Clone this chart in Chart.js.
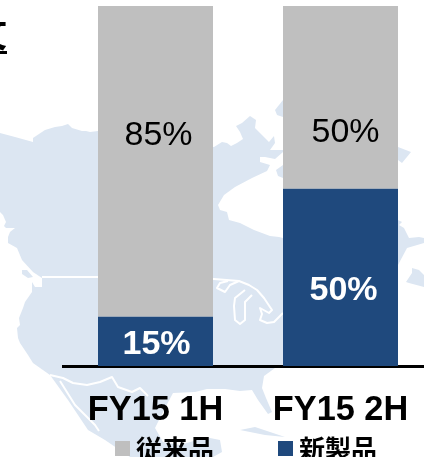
<!DOCTYPE html>
<html><head><meta charset="utf-8">
<script src="https://cdn.jsdelivr.net/npm/chart.js@4"></script>
<style>html,body{margin:0;padding:0;background:#fff;overflow:hidden;width:424px;height:457px}canvas{display:block}</style>
</head><body><canvas id="c" width="433" height="457" style="width:433px;height:457px"></canvas>
<script>
const categories = ['FY15 1H', 'FY15 2H'];
const newProduct = [15, 50];
const legacyProduct = [85, 50];
const seriesNames = { legacy: '従来品', fresh: '新製品' };

// Decorative backdrop (map of North America), not data
const landMain = [[0,133],[15,137],[33,142],[33,138],[45,130],[55,127],[62,126],[68,124],[72,128],[82,131],[86,131],[90,132],[98,131],
 [214,147],[222,142],[227,143],[231,146],[237,143],[243,139],[240,132],[236,126],[242,123],[250,116],[256,120],[255,128],[262,135],[269,142],[274,136],[275,143],[270,150],[283,150],
 [283,152],[275,159],[265,157],[260,157],[260,162],[270,165],[267,171],[252,178],[235,187],[224,195],[218,205],[220,210],[227,212],[229,220],[240,223],[254,230],[262,233],[270,236],[279,237],[283,238],
 [398,220],[402,222],[399,225],[404,228],[409,238],[419,237],[424,238],[424,243],[407,248],[398,265],[390,366],
 [275,368],[264,376],[262,388],[266,398],[272,412],[268,414],[258,400],[252,390],[240,391],[225,389],[207,389],[195,392],[173,393],[165,408],[158,422],[155,428],[163,442],[180,445],[197,440],[210,438],[220,440],[222,452],[213,457],
 [130,457],[105,440],[88,430],[68,400],[50,375],[33,363],[28,355],[20,343],[18,338],[17,328],[20,325],[19,318],[23,308],[25,302],[32,292],[32,282],[35,287],[42,287],[42,278],[33,272],[22,260],[17,248],[8,243],[8,237],[10,232],[15,228],[6,228],[4,226],[6,222],[3,215],[0,212]];
const landIslands = [
 [[22,270],[27,270],[33,277],[28,278],[22,274]],
 [[275,110],[283,100],[283,117],[277,115]],
 [[276,170],[283,165],[283,178],[278,176]],
 [[398,147],[411,152],[402,163],[398,160]],
 [[412,268],[419,270],[424,275],[424,287],[409,283],[406,282],[412,273]],
 [[240,430],[255,427],[285,437],[265,435]]
];
const waterLines = [
 [[42,277],[98,277],[214,279],[239,281],[249,285],[257,290],[264,298],[272,310],[269,313],[260,308],[262,314],[260,320],[267,323],[274,322],[283,313]],
 [[239,281],[230,285],[225,292],[217,288],[220,283],[228,281]],
 [[245,290],[235,298],[234,306],[235,320],[240,324],[245,320],[245,302],[252,295]],
 [[50,375],[63,378],[73,383],[87,385],[100,382],[112,377],[118,387],[132,392],[140,388],[148,396]],
 [[60,381],[75,405],[95,425],[99,431]]
];

const trace = (ctx, pts) => { ctx.beginPath(); pts.forEach((p, i) => i ? ctx.lineTo(p[0], p[1]) : ctx.moveTo(p[0], p[1])); };

const backdrop = { id: 'backdrop', beforeDraw(chart) {
  const ctx = chart.ctx; ctx.save();
  ctx.fillStyle = '#fff'; ctx.fillRect(0, 0, chart.width, chart.height);
  ctx.fillStyle = '#DCE6F2';
  trace(ctx, landMain); ctx.closePath(); ctx.fill();
  landIslands.forEach(p => { trace(ctx, p); ctx.closePath(); ctx.fill(); });
  ctx.strokeStyle = '#fff'; ctx.lineWidth = 2; ctx.lineJoin = 'round';
  waterLines.forEach(p => { trace(ctx, p); ctx.stroke(); });
  // cropped heading fragment at the top-left edge
  ctx.fillStyle = '#000'; ctx.font = 'bold 35px "Noto Sans CJK JP"'; ctx.textAlign = 'right'; ctx.textBaseline = 'alphabetic';
  ctx.fillText('文', 7, 47);
  ctx.fillRect(0, 51, 7, 3);
  ctx.restore();
}};

const valueLabels = { id: 'valueLabels', afterDatasetsDraw(chart) {
  const ctx = chart.ctx; ctx.save();
  ctx.textAlign = 'center'; ctx.textBaseline = 'middle';
  const y = chart.scales.y;
  chart.data.datasets.forEach((ds, di) => {
    chart.getDatasetMeta(di).data.forEach((bar, i) => {
      const isNew = di === 0;
      const nudge = isNew ? [[1, 3], [3, 13]][i] : [[3, -26], [5, 35]][i];
      const top = bar.y, bottom = Math.min(bar.base, y.bottom);
      ctx.font = (isNew ? 'bold ' : '') + '34px "Liberation Sans"';
      ctx.fillStyle = isNew ? '#fff' : '#000';
      ctx.fillText(ds.data[i] + '%', bar.x + nudge[0], (top + bottom) / 2 + nudge[1]);
    });
  });
  ctx.restore();
}};

const legendRow = { id: 'legendRow', afterDraw(chart) {
  const ctx = chart.ctx; ctx.save();
  ctx.textAlign = 'left'; ctx.textBaseline = 'alphabetic';
  ctx.font = 'bold 26px "Noto Sans CJK JP"';
  [[chart.data.datasets[1], 115], [chart.data.datasets[0], 278]].forEach(([ds, x]) => {
    ctx.fillStyle = ds.backgroundColor; ctx.fillRect(x, 441, 15, 15);
    ctx.fillStyle = '#000'; ctx.fillText(ds.label, x + 21, 459);
  });
  ctx.restore();
}};

new Chart(document.getElementById('c'), {
  type: 'bar',
  data: { labels: categories, datasets: [
    { label: seriesNames.fresh, data: newProduct, backgroundColor: '#1F497D', stack: 's' },
    { label: seriesNames.legacy, data: legacyProduct, backgroundColor: '#BFBFBF', stack: 's' }
  ]},
  plugins: [backdrop, valueLabels, legendRow],
  options: {
    responsive: false, animation: false,
    layout: { padding: { left: 63, top: 6, right: 0, bottom: 0 } },
    plugins: { legend: { display: false }, tooltip: { enabled: false } },
    datasets: { bar: { barPercentage: 115 / 185, categoryPercentage: 1 } },
    scales: {
      x: { stacked: true, afterFit(s) { s.height = 91; },
        grid: { display: true, drawOnChartArea: false, drawTicks: false },
        border: { color: '#000', width: 3 },
        ticks: { color: '#000', padding: 24, maxRotation: 0, font: { family: '"Liberation Sans"', size: 34.3, weight: 'bold' } } },
      y: { stacked: true, display: false, min: 1.5, max: 100 }
    }
  }
});
</script></body></html>
